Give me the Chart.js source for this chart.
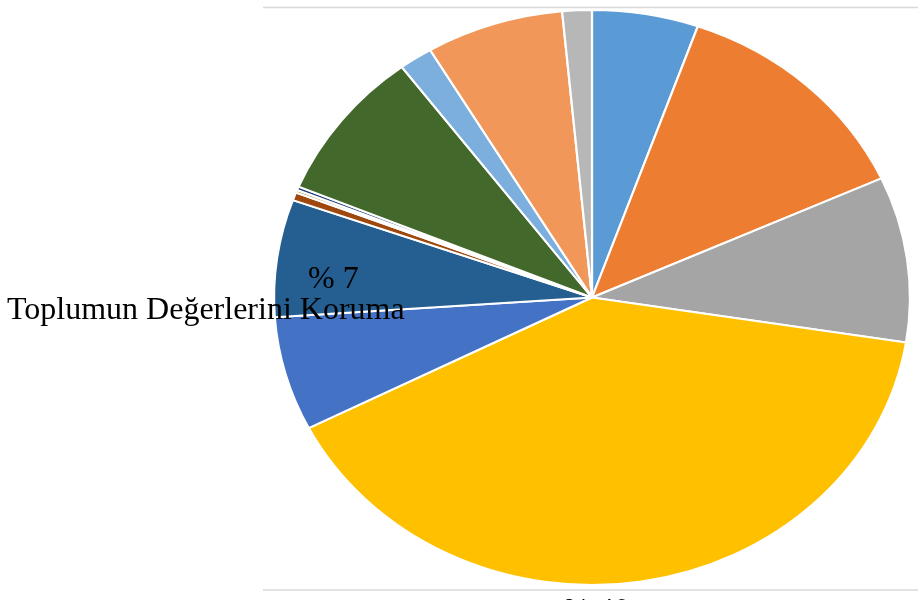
<!DOCTYPE html>
<html>
<head>
<meta charset="utf-8">
<script src="https://cdn.jsdelivr.net/npm/chart.js@4.4.1/dist/chart.umd.min.js"></script>
<style>
  html, body { margin: 0; padding: 0; background: #ffffff; }
  #wrap { width: 918px; height: 600px; position: relative; }
</style>
</head>
<body>
<div id="wrap"><canvas id="pie" width="918" height="600"></canvas></div>
<script>
// slices, clockwise from 12 o'clock (percent)
const categories = [
  "Kategori 1", "Kategori 2", "Kategori 3", "Kategori 4", "Kategori 5",
  "Toplumun Değerlerini Koruma", "Kategori 7", "Kategori 8", "Kategori 9",
  "Kategori 10", "Kategori 11", "Kategori 12", "Kategori 13",
];
const shares = [5.4, 12.8, 9.3, 40.0, 6.4, 6.6, 0.45, 0.15, 0.2, 8.5, 1.7, 7.0, 1.5];
const sliceColors = [
  "#5B9BD5", "#ED7D31", "#A5A5A5", "#FFC000", "#4472C4", "#255E91",
  "#9E480E", "#997300", "#264478", "#43682B", "#7CAFDD", "#F1975A", "#B7B7B7",
];

// labels shown on the picture
const shownLabels = [
  { text: "% 7", x: 308, y: 288 },
  { text: "Toplumun Değerlerini Koruma", x: 7, y: 319 },
  { text: "% 40", x: 563, y: 620 },
];

const X_STRETCH = 1.106; // the reference pie is a bit wider than tall

const stretchPlugin = {
  id: "stretch",
  beforeDatasetsDraw(chart) {
    const arc = chart.getDatasetMeta(0).data[0];
    const ctx = chart.ctx;
    ctx.save();
    ctx.translate(arc.x, arc.y);
    ctx.scale(X_STRETCH, 1);
    ctx.translate(-arc.x, -arc.y);
  },
  afterDatasetsDraw(chart) {
    chart.ctx.restore();
  },
};

const framePlugin = {
  id: "frame",
  beforeDraw(chart) {
    const ctx = chart.ctx;
    ctx.save();
    ctx.strokeStyle = "#d9d9d9";
    ctx.lineWidth = 1.5;
    ctx.beginPath();
    ctx.moveTo(263, 7.5);
    ctx.lineTo(chart.width, 7.5);
    ctx.moveTo(263, 590);
    ctx.lineTo(chart.width, 590);
    ctx.stroke();
    ctx.restore();
  },
  afterDraw(chart) {
    const ctx = chart.ctx;
    ctx.save();
    ctx.fillStyle = "#000000";
    ctx.font = '32px "Liberation Serif", "Times New Roman", serif';
    ctx.textBaseline = "alphabetic";
    ctx.textAlign = "left";
    shownLabels.forEach((l) => ctx.fillText(l.text, l.x, l.y));
    ctx.restore();
  },
};

new Chart(document.getElementById("pie"), {
  type: "pie",
  data: {
    labels: categories,
    datasets: [
      {
        data: shares,
        backgroundColor: sliceColors,
        borderColor: "#ffffff",
        borderWidth: 2,
      },
    ],
  },
  options: {
    responsive: false,
    animation: false,
    layout: { padding: { top: 9, bottom: 14, left: 303.5, right: 37.5 } },
    plugins: {
      legend: { display: false },
      tooltip: { enabled: false },
    },
  },
  plugins: [framePlugin, stretchPlugin],
});
</script>
</body>
</html>
